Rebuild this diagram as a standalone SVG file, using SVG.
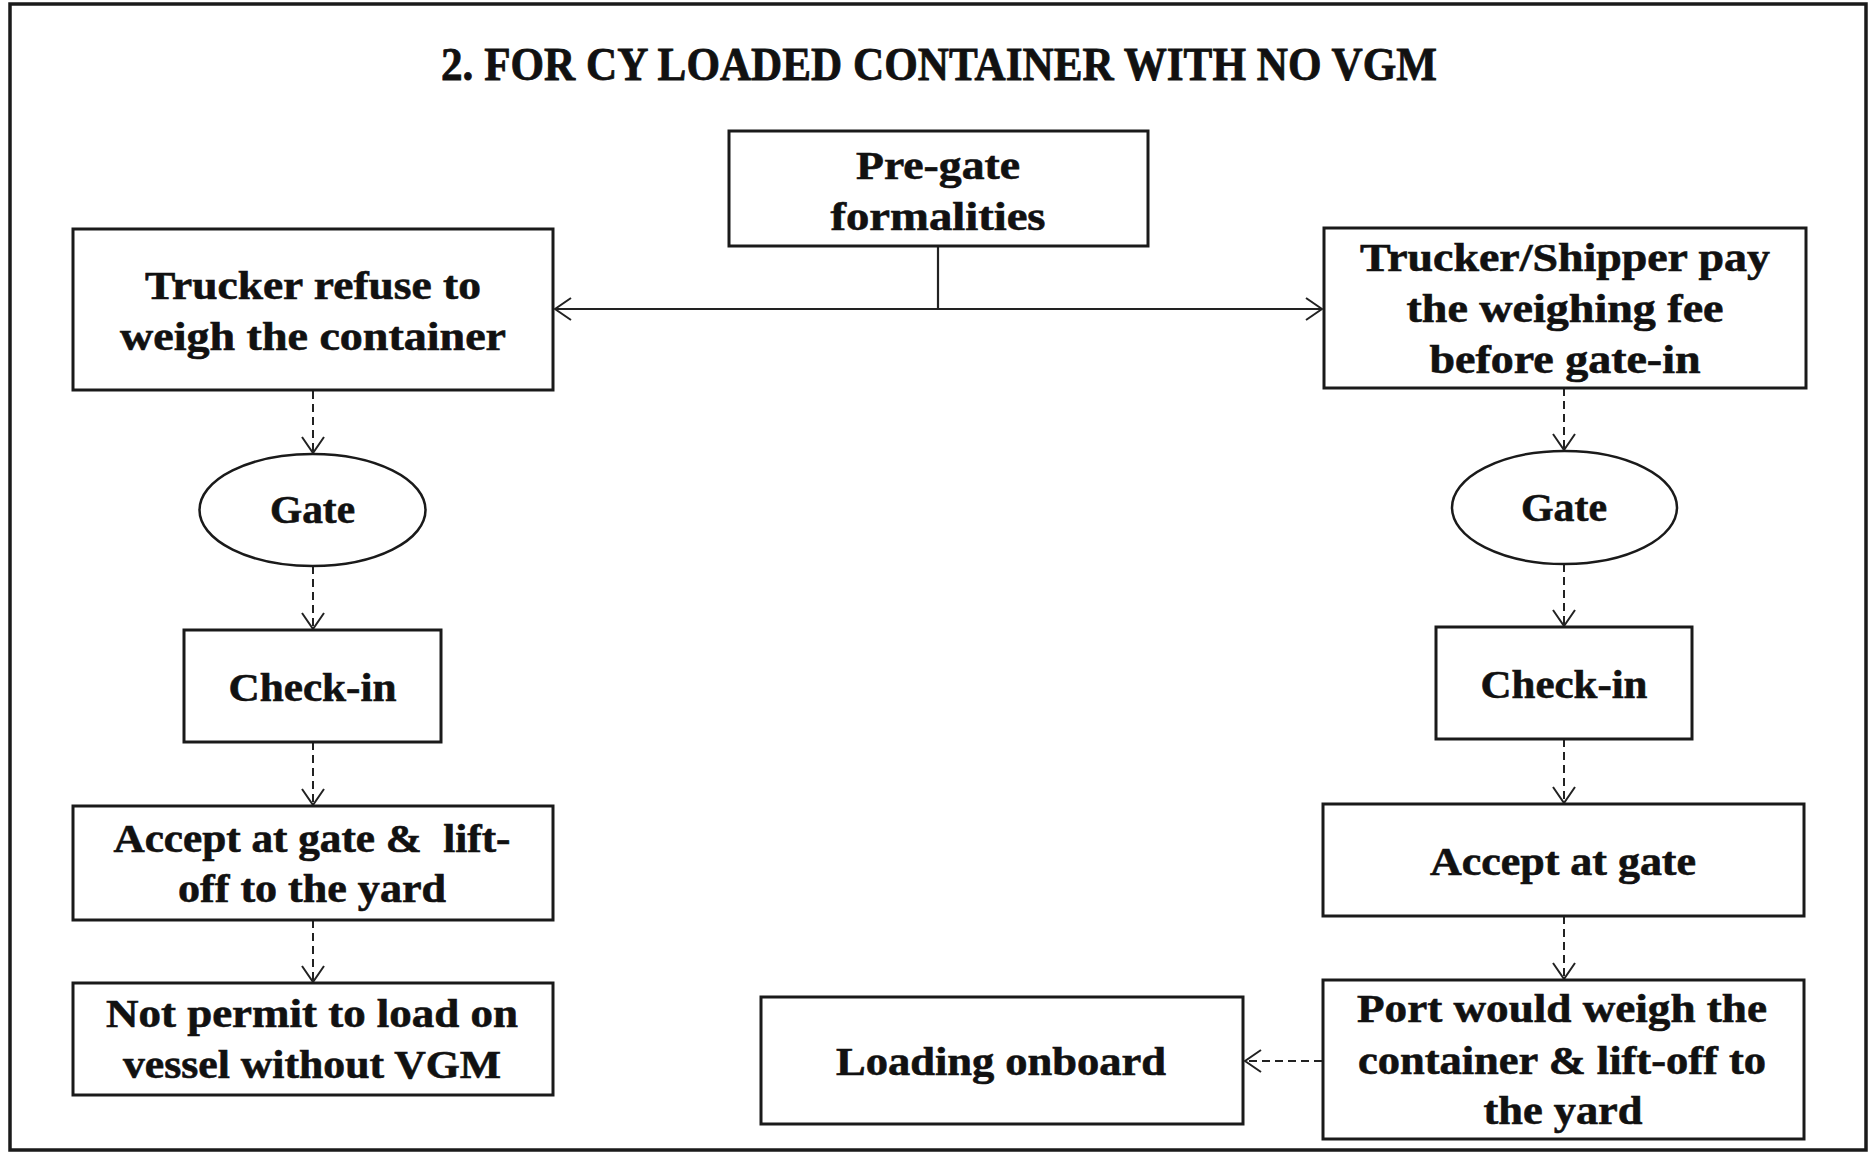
<svg xmlns="http://www.w3.org/2000/svg" width="1870" height="1153" viewBox="0 0 1870 1153">
<style>
.box{fill:#fff;stroke:#1a1a1a;stroke-width:3}
.ell{fill:#fff;stroke:#1a1a1a;stroke-width:2.5}
.t{font-family:"Liberation Serif","Times New Roman",serif;font-weight:bold;font-size:39px;fill:#111;stroke:#111;stroke-width:0.6;text-anchor:middle}
.title{font-family:"Liberation Serif","Times New Roman",serif;font-weight:bold;font-size:47px;fill:#111;stroke:#111;stroke-width:0.8;text-anchor:middle}
.solid{fill:none;stroke:#222;stroke-width:2.2}
.dash{fill:none;stroke:#222;stroke-width:2;stroke-dasharray:8 5}
</style>
<defs>
<marker id="arr" viewBox="0 0 18 24" refX="17" refY="12" markerWidth="18" markerHeight="24" markerUnits="userSpaceOnUse" orient="auto-start-reverse">
<path d="M1,1 L17,12 L1,23" fill="none" stroke="#222" stroke-width="2"/>
</marker>
</defs>
<rect x="0" y="0" width="1870" height="1153" fill="#fff"/>
<rect x="10" y="4" width="1856" height="1146" fill="none" stroke="#1a1a1a" stroke-width="3.5"/>
<text class="title" x="939" y="80" textLength="996" lengthAdjust="spacingAndGlyphs">2. FOR CY LOADED CONTAINER WITH NO VGM</text>

<g id="connectors">
<path class="solid" d="M938,246 V309"/>
<path class="solid" d="M555,309 H1322" marker-start="url(#arr)" marker-end="url(#arr)"/>
<path class="dash" d="M313,391 V453" marker-end="url(#arr)"/>
<path class="dash" d="M313,566 V629" marker-end="url(#arr)"/>
<path class="dash" d="M313,742 V805" marker-end="url(#arr)"/>
<path class="dash" d="M313,920 V982" marker-end="url(#arr)"/>
<path class="dash" d="M1564,388 V450" marker-end="url(#arr)"/>
<path class="dash" d="M1564,564 V626" marker-end="url(#arr)"/>
<path class="dash" d="M1564,739 V803" marker-end="url(#arr)"/>
<path class="dash" d="M1564,916 V979" marker-end="url(#arr)"/>
<path class="dash" d="M1322,1061 H1245" marker-end="url(#arr)"/>
</g>

<g id="pregate">
<rect class="box" x="729" y="131" width="419" height="115"/>
<text class="t" x="938" y="179" textLength="164" lengthAdjust="spacingAndGlyphs">Pre-gate</text>
<text class="t" x="938" y="230" textLength="215" lengthAdjust="spacingAndGlyphs">formalities</text>
</g>

<g id="refuse">
<rect class="box" x="73" y="229" width="480" height="161"/>
<text class="t" x="313" y="299" textLength="336" lengthAdjust="spacingAndGlyphs">Trucker refuse to</text>
<text class="t" x="313" y="350" textLength="386" lengthAdjust="spacingAndGlyphs">weigh the container</text>
</g>

<g id="pay">
<rect class="box" x="1324" y="228" width="482" height="160"/>
<text class="t" x="1565" y="271" textLength="410" lengthAdjust="spacingAndGlyphs">Trucker/Shipper pay</text>
<text class="t" x="1565" y="322" textLength="317" lengthAdjust="spacingAndGlyphs">the weighing fee</text>
<text class="t" x="1565" y="373" textLength="271" lengthAdjust="spacingAndGlyphs">before gate-in</text>
</g>

<g id="gate-left">
<ellipse class="ell" cx="312.5" cy="510" rx="113" ry="56"/>
<text class="t" x="312.5" y="523" textLength="85" lengthAdjust="spacingAndGlyphs">Gate</text>
</g>

<g id="gate-right">
<ellipse class="ell" cx="1564.5" cy="507.5" rx="112.5" ry="56.5"/>
<text class="t" x="1564" y="521" textLength="86" lengthAdjust="spacingAndGlyphs">Gate</text>
</g>

<g id="checkin-left">
<rect class="box" x="184" y="630" width="257" height="112"/>
<text class="t" x="312.5" y="701" textLength="168" lengthAdjust="spacingAndGlyphs">Check-in</text>
</g>

<g id="checkin-right">
<rect class="box" x="1436" y="627" width="256" height="112"/>
<text class="t" x="1564" y="698" textLength="167" lengthAdjust="spacingAndGlyphs">Check-in</text>
</g>

<g id="accept-lift">
<rect class="box" x="73" y="806" width="480" height="114"/>
<text class="t" x="312" y="852" textLength="397" lengthAdjust="spacingAndGlyphs" xml:space="preserve">Accept at gate &amp;  lift-</text>
<text class="t" x="312" y="902" textLength="268" lengthAdjust="spacingAndGlyphs">off to the yard</text>
</g>

<g id="accept">
<rect class="box" x="1323" y="804" width="481" height="112"/>
<text class="t" x="1563" y="875" textLength="266" lengthAdjust="spacingAndGlyphs">Accept at gate</text>
</g>

<g id="notpermit">
<rect class="box" x="73" y="983" width="480" height="112"/>
<text class="t" x="312" y="1027" textLength="412" lengthAdjust="spacingAndGlyphs">Not permit to load on</text>
<text class="t" x="312" y="1078" textLength="378" lengthAdjust="spacingAndGlyphs">vessel without VGM</text>
</g>

<g id="loading">
<rect class="box" x="761" y="997" width="482" height="127"/>
<text class="t" x="1001" y="1075" textLength="330" lengthAdjust="spacingAndGlyphs">Loading onboard</text>
</g>

<g id="port">
<rect class="box" x="1323" y="980" width="481" height="159"/>
<text class="t" x="1562" y="1022" textLength="410" lengthAdjust="spacingAndGlyphs">Port would weigh the</text>
<text class="t" x="1562" y="1074" textLength="408" lengthAdjust="spacingAndGlyphs">container &amp; lift-off to</text>
<text class="t" x="1563" y="1124" textLength="159" lengthAdjust="spacingAndGlyphs">the yard</text>
</g>
</svg>
